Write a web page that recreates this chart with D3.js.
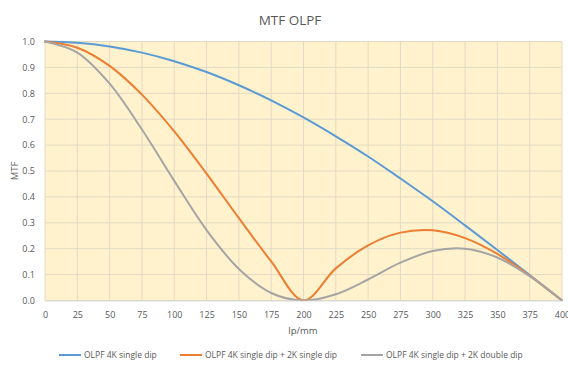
<!DOCTYPE html>
<html>
<head>
<meta charset="utf-8">
<script src="https://cdn.jsdelivr.net/npm/d3@7"></script>
<style>
  html, body { margin: 0; padding: 0; background: #fff; }
  svg { display: block; font-family: "Open Sans", "Liberation Sans", sans-serif; }
</style>
</head>
<body>
<svg id="chart" width="568" height="365"></svg>
<script>
const freqs = [0, 25, 50, 75, 100, 125, 150, 175, 200, 225, 250, 275, 300, 325, 350, 375, 400];
const single4k = [1.000, 0.995, 0.981, 0.957, 0.924, 0.882, 0.831, 0.773, 0.707, 0.634, 0.556, 0.471, 0.383, 0.290, 0.195, 0.098, 0.000];
const single4k2k = [1.000, 0.976, 0.906, 0.795, 0.653, 0.490, 0.318, 0.151, 0.000, 0.124, 0.213, 0.262, 0.271, 0.241, 0.180, 0.096, 0.000];
const double2k = [1.000, 0.957, 0.837, 0.660, 0.462, 0.272, 0.122, 0.029, 0.000, 0.024, 0.081, 0.146, 0.191, 0.200, 0.166, 0.094, 0.000];
const seriesNames = ["OLPF 4K single dip", "OLPF 4K single dip + 2K single dip", "OLPF 4K single dip + 2K double dip"];
const seriesColors = ["#5B9BD5", "#ED7D31", "#A5A5A5"];
const xTicks = d3.range(0, 401, 25);
const yTicks = d3.range(0, 11).map(d => d / 10);

const svg = d3.select("#chart");
const pL = 45, pR = 562, pT = 41.5, pB = 300.5;
const x = d3.scaleLinear().domain([0, 400]).range([pL, pR]);
const y = d3.scaleLinear().domain([0, 1]).range([pB, pT]);
const textColor = "#595959";

svg.append("rect").attr("x", pL).attr("y", pT)
  .attr("width", pR - pL).attr("height", pB - pT)
  .attr("fill", "#FFF2CC");

svg.append("clipPath").attr("id", "clip")
  .append("rect").attr("x", pL - 1).attr("y", pT - 2)
  .attr("width", pR - pL + 2).attr("height", pB - pT + 2);

// grid
svg.append("g").selectAll("line").data(xTicks).join("line")
  .attr("x1", d => x(d)).attr("x2", d => x(d))
  .attr("y1", pT).attr("y2", pB)
  .attr("stroke", "#E2DAC4").attr("stroke-width", 1);
svg.append("g").selectAll("line").data(yTicks).join("line")
  .attr("x1", pL).attr("x2", pR)
  .attr("y1", d => y(d)).attr("y2", d => y(d))
  .attr("stroke", "#E2DAC4").attr("stroke-width", 1);

// axes
const xAxis = d3.axisBottom(x).tickValues(xTicks).tickSize(0).tickPadding(11);
const gx = svg.append("g").attr("transform", `translate(0,${pB})`).call(xAxis);
gx.select(".domain").attr("stroke", "#D9D9D9");
gx.selectAll("text").attr("fill", textColor).attr("font-size", 9).attr("font-family", "Open Sans, sans-serif");

const yAxis = d3.axisLeft(y).tickValues(yTicks).tickSize(0).tickPadding(10).tickFormat(d3.format(".1f"));
const gy = svg.append("g").attr("transform", `translate(${pL},0)`).call(yAxis);
gy.select(".domain").remove();
gy.selectAll("text").attr("fill", textColor).attr("font-size", 9).attr("font-family", "Open Sans, sans-serif");

// lines
const allSeries = [single4k, single4k2k, double2k];
const line = d3.line()
  .x((d, i) => x(freqs[i]))
  .y(d => y(d))
  .curve(d3.curveCatmullRom.alpha(0.5));
svg.append("g").attr("clip-path", "url(#clip)")
  .selectAll("path").data(allSeries).join("path")
  .attr("d", d => line(d))
  .attr("fill", "none")
  .attr("stroke", (d, i) => seriesColors[i])
  .attr("stroke-width", 2)
  .attr("stroke-linecap", "round")
  .attr("stroke-linejoin", "round");

// title
svg.append("text").attr("x", 290).attr("y", 25).attr("text-anchor", "middle")
  .attr("fill", textColor).attr("font-size", 13.5).text("MTF OLPF");

// axis titles
svg.append("text").attr("x", 303).attr("y", 334).attr("text-anchor", "middle")
  .attr("fill", textColor).attr("font-size", 9.5).text("lp/mm");
svg.append("text").attr("transform", "translate(18,171) rotate(-90)").attr("text-anchor", "middle")
  .attr("fill", textColor).attr("font-size", 9.5).text("MTF");

// legend
const legendX = [59, 180, 361];
const lg = svg.append("g").selectAll("g").data(seriesNames).join("g")
  .attr("transform", (d, i) => `translate(${legendX[i]},355)`);
lg.append("line").attr("x1", 0).attr("x2", 22).attr("y1", 0).attr("y2", 0)
  .attr("stroke", (d, i) => seriesColors[i]).attr("stroke-width", 2);
lg.append("text").attr("x", 25).attr("y", 3).attr("fill", textColor)
  .attr("font-size", 8.5).text(d => d);
</script>
</body>
</html>
